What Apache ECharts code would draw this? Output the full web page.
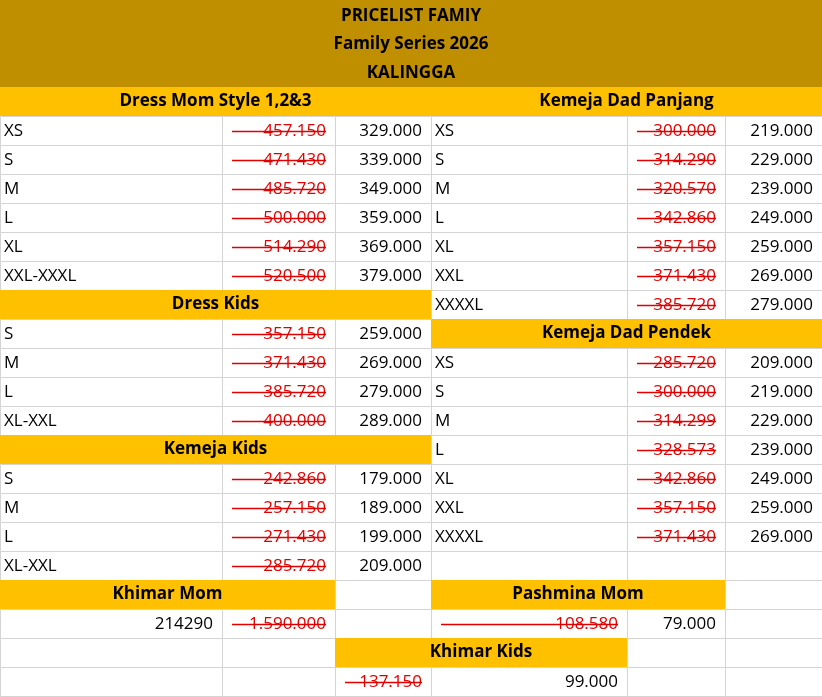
<!DOCTYPE html>
<html><head><meta charset="utf-8">
<script src="https://cdn.jsdelivr.net/npm/echarts@6/dist/echarts.min.js"></script>
<style>html,body{margin:0;padding:0;background:#fff}#c{width:822px;height:697px}</style>
</head><body><div id="c"></div>
<script>
const titleLines = ['PRICELIST FAMIY', 'Family Series 2026', 'KALINGGA'];

const dressMomTitle = 'Dress Mom Style 1,2&3';
const dressMomSizes = ['XS','S','M','L','XL','XXL-XXXL'];
const dressMomOld = ['457.150','471.430','485.720','500.000','514.290','520.500'];
const dressMomNew = ['329.000','339.000','349.000','359.000','369.000','379.000'];

const dressKidsTitle = 'Dress Kids';
const dressKidsSizes = ['S','M','L','XL-XXL'];
const dressKidsOld = ['357.150','371.430','385.720','400.000'];
const dressKidsNew = ['259.000','269.000','279.000','289.000'];

const kemejaKidsTitle = 'Kemeja Kids';
const kemejaKidsSizes = ['S','M','L','XL-XXL'];
const kemejaKidsOld = ['242.860','257.150','271.430','285.720'];
const kemejaKidsNew = ['179.000','189.000','199.000','209.000'];

const dadPanjangTitle = 'Kemeja Dad Panjang';
const dadPanjangSizes = ['XS','S','M','L','XL','XXL','XXXXL'];
const dadPanjangOld = ['300.000','314.290','320.570','342.860','357.150','371.430','385.720'];
const dadPanjangNew = ['219.000','229.000','239.000','249.000','259.000','269.000','279.000'];

const dadPendekTitle = 'Kemeja Dad Pendek';
const dadPendekSizes = ['XS','S','M','L','XL','XXL','XXXXL'];
const dadPendekOld = ['285.720','300.000','314.299','328.573','342.860','357.150','371.430'];
const dadPendekNew = ['209.000','219.000','229.000','239.000','249.000','259.000','269.000'];

const khimarMomTitle = 'Khimar Mom';
const khimarMomValues = ['214290','1.590.000'];
const pashminaMomTitle = 'Pashmina Mom';
const pashminaMomValues = ['108.580','79.000'];
const khimarKidsTitle = 'Khimar Kids';
const khimarKidsValues = ['137.150','99.000'];

// column boundaries (layout)
const L = [0,222,335,431], R = [431,627,725,822];
const TOP = 87, RH = 29;
const cells = [];
function cell(x0,x1,r,type,text){cells.push([x0,x1,TOP+RH*r,TOP+RH*(r+1),type,text||'']);}
function section(cols,startRow,title,sizes,olds,news){
  cell(cols[0],cols[3],startRow,'hdr',title);
  sizes.forEach((s,i)=>{const r=startRow+1+i;
    cell(cols[0],cols[1],r,'label',s);cell(cols[1],cols[2],r,'old',olds[i]);cell(cols[2],cols[3],r,'num',news[i]);});
}
section(L,0,dressMomTitle,dressMomSizes,dressMomOld,dressMomNew);
section(L,7,dressKidsTitle,dressKidsSizes,dressKidsOld,dressKidsNew);
section(L,12,kemejaKidsTitle,kemejaKidsSizes,kemejaKidsOld,kemejaKidsNew);
section(R,0,dadPanjangTitle,dadPanjangSizes,dadPanjangOld,dadPanjangNew);
section(R,8,dadPendekTitle,dadPendekSizes,dadPendekOld,dadPendekNew);
cell(R[0],R[1],16,'empty');cell(R[1],R[2],16,'empty');cell(R[2],R[3],16,'empty');
// row 17
cell(L[0],L[2],17,'hdr',khimarMomTitle);cell(L[2],L[3],17,'empty');
cell(R[0],R[2],17,'hdr',pashminaMomTitle);cell(R[2],R[3],17,'empty');
// row 18
cell(L[0],L[1],18,'num',khimarMomValues[0]);cell(L[1],L[2],18,'old',khimarMomValues[1]);cell(L[2],L[3],18,'empty');
cell(R[0],R[1],18,'old',pashminaMomValues[0]);cell(R[1],R[2],18,'num',pashminaMomValues[1]);cell(R[2],R[3],18,'empty');
// row 19
cell(L[0],L[1],19,'empty');cell(L[1],L[2],19,'empty');cell(L[2],R[1],19,'hdr',khimarKidsTitle);
cell(R[1],R[2],19,'empty');cell(R[2],R[3],19,'empty');
// row 20
cell(L[0],L[1],20,'empty');cell(L[1],L[2],20,'empty');cell(L[2],L[3],20,'old',khimarKidsValues[0]);
cell(R[0],R[1],20,'num',khimarKidsValues[1]);cell(R[1],R[2],20,'empty');cell(R[2],R[3],20,'empty');
// title band
cells.unshift([0,822,0,TOP,'title',titleLines.join('\n')]);

const FONT = '"Open Sans", "Noto Sans", sans-serif';
const chart = echarts.init(document.getElementById('c'));
chart.setOption({
  animation:false,
  grid:{left:0,right:0,top:0,bottom:0},
  xAxis:{type:'value',min:0,max:822,show:false},
  yAxis:{type:'value',min:0,max:697,inverse:true,show:false},
  series:[{type:'custom',coordinateSystem:'cartesian2d',data:cells,clip:false,
    renderItem:function(params,api){
      const x0=api.value(0),x1=api.value(1),y0=api.value(2),y1=api.value(3);
      const type=cells[params.dataIndex][4],text=cells[params.dataIndex][5];
      const p0=api.coord([x0,y0]),p1=api.coord([x1,y1]);
      const w=p1[0]-p0[0],h=p1[1]-p0[1],cy=p0[1]+h/2;
      const ch=[];
      if(type==='title'){
        ch.push({type:'rect',shape:{x:p0[0],y:p0[1],width:w,height:h},style:{fill:'#BF8F00'}});
        text.split('\n').forEach((t,i)=>ch.push({type:'text',style:{text:t,x:p0[0]+w/2,y:p0[1]+16+i*28.5,align:'center',verticalAlign:'middle',font:'bold 17px '+FONT,fill:'#000'}}));
      } else if(type==='hdr'){
        ch.push({type:'rect',shape:{x:p0[0],y:p0[1],width:w,height:h},style:{fill:'#FFC000'}});
        ch.push({type:'text',style:{text:text,x:p0[0]+w/2,y:cy,align:'center',verticalAlign:'middle',font:'bold 17px '+FONT,fill:'#000'}});
      } else {
        ch.push({type:'rect',shape:{x:p0[0]+0.5,y:p0[1]+0.5,width:w,height:h},style:{fill:'#fff',stroke:'#D4D4D4',lineWidth:1}});
        if(type==='label') ch.push({type:'text',style:{text:text,x:p0[0]+4,y:cy+1,align:'left',verticalAlign:'middle',font:'17px '+FONT,fill:'#000'}});
        if(type==='num') ch.push({type:'text',style:{text:text,x:p1[0]-9,y:cy+1,align:'right',verticalAlign:'middle',font:'17px '+FONT,fill:'#000'}});
        if(type==='old'){
          ch.push({type:'text',style:{text:text,x:p1[0]-9,y:cy+1,align:'right',verticalAlign:'middle',font:'17px '+FONT,fill:'#E00000'}});
          ch.push({type:'line',shape:{x1:p0[0]+10,y1:cy+1,x2:p1[0]-9,y2:cy+1},style:{stroke:'#E00000',lineWidth:1.3}});
        }
      }
      return {type:'group',children:ch};
    }}]
});
</script></body></html>
